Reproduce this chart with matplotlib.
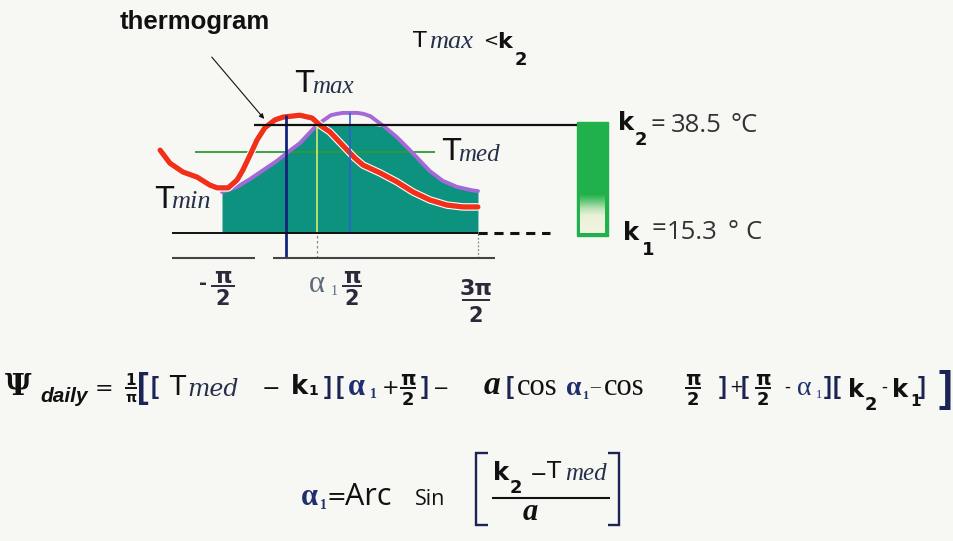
import numpy as np
import matplotlib
matplotlib.use('Agg')
import matplotlib.pyplot as plt
import matplotlib.transforms as mtransforms
import matplotlib.patheffects as pe
from matplotlib.patches import Rectangle, FancyArrowPatch
from matplotlib.lines import Line2D
from matplotlib.colors import LinearSegmentedColormap

W, H = 954, 541

# thresholds and daily extremes, degC
K1 = 15.3
K2 = 38.5
T_MIN = 24.1
T_MAX = 41.1
T_MED = (T_MIN + T_MAX) / 2
AMP = (T_MAX - T_MIN) / 2
ALPHA1 = np.arcsin((K2 - T_MED) / AMP)

# sine model of the day (phase in rad, temperature in degC)
FIT_PHASE = [-1.571, -1.20, -0.88, -0.56, -0.22, 0.05, 0.34, 0.76, 1.10, 1.25,
             1.40, 1.75, 1.90, 2.07, 2.42, 2.72, 3.04, 3.29, 3.53, 3.85, 4.20,
             4.55, 4.712]
FIT_TEMP = [24.1, 25.2, 26.9, 28.8, 30.8, 32.7, 34.6, 38.5, 40.6, 40.9,
            41.1, 41.1, 40.9, 40.4, 38.1, 35.9, 33.1, 30.8, 28.6, 26.5, 25.2,
            24.5, 24.3]

# recorded thermogram
OBS_PHASE = [-3.09, -2.85, -2.53, -2.18, -1.87, -1.69, -1.42, -1.20, -1.06,
             -0.88, -0.71, -0.52, -0.27, -0.07, 0.34, 0.64, 0.83, 1.08, 1.57,
             1.69, 1.89, 2.31, 2.72, 3.12, 3.53, 3.95, 4.34, 4.71]
OBS_TEMP = [33.1, 30.3, 28.4, 27.3, 25.6, 25.0, 25.0, 26.7, 28.8,
            32.1, 35.3, 37.9, 39.6, 40.2, 40.6, 40.0, 38.5, 37.0, 32.5,
            31.4, 29.9, 28.2, 26.3, 24.1, 22.4, 21.3, 20.9, 20.9]
PEAK_PHASE = 0.0

# layout: pixel of phase 0, px per rad, pixel row of k1, px per degC
X0, SX = 286, 40.74
Y_K1, SY = 233, 4.655
AXIS_T = K1 - 25 / SY

BG = '#f7f7f4'
INK = '#111111'
SUB = '#27304a'
NAVY_T = '#1c2456'
ALPHA_BLUE = '#1f2f6e'
ALPHA_GREY = '#5d6a7a'
TEAL = '#0d927f'
PURPLE = '#a468d8'
RED = '#f2301a'
GREEN = '#2e9b35'
NAVY = '#14237a'
BLUE = '#2f5fd0'
YELLOW = '#d8ec6a'
BAR_GREEN = '#20b04c'

SANS = ['Open Sans', 'DejaVu Sans']
DV = ['DejaVu Sans']
ARIAL = ['Liberation Sans', 'DejaVu Sans']
SERIF = ['Liberation Serif', 'DejaVu Serif']
DVSERIF = ['DejaVu Serif']

fig = plt.figure(figsize=(W / 100, H / 100), dpi=100)
fig.patch.set_facecolor(BG)
ax = fig.add_axes([0, 0, 1, 1])
ax.set_facecolor(BG)
ax.axis('off')

PX = mtransforms.Affine2D().scale(1 / W, -1 / H).translate(0, 1) + fig.transFigure


def xp(th):
    return X0 + SX * th


def txt(x, y, s, size, fam=SANS, weight='normal', style='normal',
        color=INK, ha='left', va='baseline'):
    ax.text(x, y, s, transform=PX, fontsize=size, family=fam,
            fontweight=weight, fontstyle=style, color=color, ha=ha, va=va)


def seg(xs, ys, lw=1.3, color=INK):
    ax.add_line(Line2D(xs, ys, transform=PX, lw=lw, color=color,
                       solid_capstyle='butt', solid_joinstyle='miter'))


def frac(cx, y_num, y_bar, y_den, num, den, half, size=15, color=INK):
    txt(cx, y_num, num, size, DV, 'bold', color=color, ha='center')
    seg([cx - half, cx + half], [y_bar, y_bar], lw=1.4, color=color)
    txt(cx, y_den, den, size - 1, DV, 'bold', color=color, ha='center')


# ---- curves ----
fit_phase = np.array(FIT_PHASE)
fit_temp = np.array(FIT_TEMP)
ax.fill_between(fit_phase, K1, np.minimum(fit_temp, K2), color=TEAL, lw=0, zorder=1)
ax.hlines(T_MED, -2.23, 3.66, color=GREEN, lw=1.3, zorder=2)
ax.plot(fit_phase, fit_temp, color=PURPLE, lw=2.8, zorder=3, solid_capstyle='round')
ax.plot(OBS_PHASE, OBS_TEMP, color=RED, lw=3.8, zorder=4, solid_capstyle='round',
        path_effects=[pe.Stroke(linewidth=5.4, foreground='white'), pe.Normal()])

# ---- guide lines ----
ax.vlines(PEAK_PHASE, AXIS_T, max(OBS_TEMP), color=NAVY, lw=2.0, zorder=5)
ax.vlines(ALPHA1, K1, K2, color=YELLOW, lw=1.2, zorder=5)
ax.vlines(ALPHA1, AXIS_T, K1, color='#888888', lw=0.9, linestyles=(0, (2, 2)), zorder=5)
ax.vlines(np.pi / 2, K1, T_MAX, color=BLUE, lw=1.2, zorder=5)
ax.vlines(1.5 * np.pi, AXIS_T, K1, color='#888888', lw=0.9, linestyles=(0, (1.5, 1.5)), zorder=5)

ax.hlines(K2, -0.79, 7.14, color=INK, lw=1.6, zorder=6)
ax.hlines(K1, -2.80, 1.5 * np.pi, color=INK, lw=1.4, zorder=6)
ax.hlines(K1, 1.5 * np.pi, 6.48, color=INK, lw=2.2, linestyles=(0, (3, 2.2)), zorder=6)
ax.hlines([AXIS_T, AXIS_T], [-2.80, -0.32], [-0.76, 5.13], color='#444444', lw=1.5, zorder=6)

# ---- thermometer bar ----
ax.add_patch(Rectangle((7.14, K1 - 0.64), 0.76, K2 - K1 + 1.28,
                       facecolor=BAR_GREEN, edgecolor=BAR_GREEN, lw=1, zorder=5))
bar_cmap = LinearSegmentedColormap.from_list(
    'bar', [(0, '#f3f4e0'), (0.45, '#eaf1d8'), (0.62, '#bfe3b8'),
            (0.8, '#70ca80'), (1, BAR_GREEN)])
grad = np.linspace(0, 1, 64).reshape(-1, 1)
ax.imshow(grad, extent=(7.215, 7.825, K1, 23.6), origin='lower', cmap=bar_cmap,
          aspect='auto', zorder=6, interpolation='bilinear')

ax.set_xlim(-X0 / SX, (W - X0) / SX)
ax.set_ylim(K1 - (H - Y_K1) / SY, K1 + Y_K1 / SY)

# ---- labels on the diagram ----
txt(120, 29, 'thermogram', 18.5, ARIAL, 'bold')
ax.add_patch(FancyArrowPatch((210, 55), (266, 121), transform=PX,
                             arrowstyle='-|>', mutation_scale=7, lw=0.8, color=INK))

txt(413, 47, 'T', 16, DV)
txt(429, 48, 'max', 19, SERIF, style='italic', color=SUB)
txt(483, 46, '<', 13, DV)
txt(497, 48, 'k', 16, DV, 'bold')
txt(515, 65, '2', 13, DV, 'bold')

txt(295, 92, 'T', 21.5, DV)
txt(312, 93, 'max', 18, SERIF, style='italic', color=SUB)
txt(442, 160, 'T', 21.5, DV)
txt(458, 161, 'med', 18, SERIF, style='italic', color=SUB)
txt(155, 208, 'T', 21.5, DV)
txt(171, 208, 'min', 19, SERIF, style='italic', color=SUB)

# phase ticks
txt(199, 289, '-', 14, DV, 'bold', color='#2a2a3a')
frac(xp(-np.pi / 2) + 1, 283, 286, 305, 'π', '2', half=12, size=16, color='#2a2a3a')
txt(xp(ALPHA1) - 8, 292, 'α', 22, SERIF, color=ALPHA_GREY)
txt(xp(ALPHA1) + 13, 295, '1', 10, SERIF, color=ALPHA_GREY)
frac(xp(np.pi / 2) + 2, 283, 286, 305, 'π', '2', half=10, size=16, color='#2a2a3a')
frac(xp(1.5 * np.pi) - 2, 295, 300, 322, '3π', '2', half=14, size=16, color='#2a2a3a')

# thresholds
txt(618, 130, 'k', 17.5, DV, 'bold')
txt(635, 145, '2', 13, DV, 'bold')
txt(651, 132, '=', 18.5, color='#333333')
txt(671, 132, f'{K2}', 18.5, color='#333333')
txt(731, 132, '°C', 18.5, color='#333333')
txt(623, 240, 'k', 17.5, DV, 'bold')
txt(642, 255, '1', 13, DV, 'bold')
txt(652, 236, '=', 18.5, color='#333333')
txt(667, 239, f'{K1}', 18.5, color='#333333')
txt(728, 239, '°', 18.5, color='#333333')
txt(745, 239, 'C', 18.5, color='#333333')

# ---- daily index formula ----
txt(5, 395, 'Ψ', 21, DVSERIF, 'bold')
txt(40, 402, 'daily', 15, ARIAL, 'bold', 'italic')
txt(95, 395, '=', 16, DV)
frac(131, 385, 388, 402, '1', 'π', half=6, size=11)
txt(137, 398, '[', 25, ARIAL, 'bold', color=NAVY_T)
txt(151, 394, '[', 17, ARIAL, 'bold', color=NAVY_T)
txt(169, 395, 'T', 19, DV)
txt(187, 396, 'med', 17, DVSERIF, style='italic', color=SUB)
txt(262, 395, '−', 16, DV)
txt(291, 394, 'k', 18.5, DV, 'bold')
txt(308, 395, '1', 10, DV, 'bold')
txt(324, 394, ']', 17, ARIAL, 'bold', color=NAVY_T)
txt(336, 394, '[', 17, ARIAL, 'bold', color=NAVY_T)
txt(348, 395, 'α', 22, SERIF, 'bold', color=ALPHA_BLUE)
txt(370, 398, '1', 10, SERIF, 'bold', color=ALPHA_BLUE)
txt(382, 394, '+', 15, DV)
frac(408, 385, 388, 405, 'π', '2', half=8, size=14)
txt(421, 394, ']', 17, ARIAL, 'bold', color=NAVY_T)
txt(433, 394, '−', 14, DV)
txt(484, 394, 'a', 24, SERIF, 'bold', 'italic')
txt(506, 394, '[', 17, ARIAL, 'bold', color=NAVY_T)
txt(517, 395, 'cos', 22, SERIF)
txt(566, 395, 'α', 20, SERIF, 'bold', color=ALPHA_BLUE)
txt(582, 399, '1', 9, SERIF, 'bold', color=ALPHA_BLUE)
txt(590, 392, '–', 14, SERIF)
txt(604, 395, 'cos', 22, SERIF)
frac(693, 385, 388, 405, 'π', '2', half=8, size=14)
txt(719, 394, ']', 17, ARIAL, 'bold', color=NAVY_T)
txt(729, 392, '+', 12, DV)
txt(741, 394, '[', 17, ARIAL, 'bold', color=NAVY_T)
frac(763, 385, 388, 405, 'π', '2', half=8, size=14)
txt(784, 392, '-', 12, DV)
txt(797, 395, 'α', 20, SERIF, color=ALPHA_BLUE)
txt(816, 398, '1', 9, SERIF, color=ALPHA_BLUE)
txt(824, 394, ']', 17, ARIAL, 'bold', color=NAVY_T)
txt(833, 394, '[', 17, ARIAL, 'bold', color=NAVY_T)
txt(848, 397, 'k', 17.5, DV, 'bold')
txt(865, 410, '2', 13, DV, 'bold')
txt(881, 392, '-', 12, DV)
txt(892, 397, 'k', 17.5, DV, 'bold')
txt(910, 406, '1', 11, DV, 'bold')
txt(918, 394, ']', 17, ARIAL, 'bold', color=NAVY_T)
txt(939, 401, ']', 30, ARIAL, 'bold', color=NAVY_T)

# ---- alpha1 formula ----
txt(301, 505, 'α', 22, SERIF, 'bold', color=ALPHA_BLUE)
txt(320, 509, '1', 10, SERIF, 'bold', color=ALPHA_BLUE)
txt(327, 504, '=', 17, DV)
txt(345, 505, 'Arc', 22)
txt(415, 505, 'Sin', 15.5)
seg([488, 476, 476, 488], [453, 453, 525, 525], lw=1.7, color=NAVY_T)
seg([608, 619, 619, 608], [453, 453, 525, 525], lw=1.7, color=NAVY_T)
txt(493, 480, 'k', 17.5, DV, 'bold')
txt(510, 493, '2', 13, DV, 'bold')
txt(530, 481, '−', 15, DV)
txt(547, 478, 'T', 16.5, DV)
txt(565, 480, 'med', 18, SERIF, style='italic', color=SUB)
seg([492, 610], [498, 498], lw=1.5)
txt(530, 520, 'a', 22, SERIF, 'bold', 'italic', ha='center')

fig.savefig('out.png', dpi=100, facecolor=BG)
